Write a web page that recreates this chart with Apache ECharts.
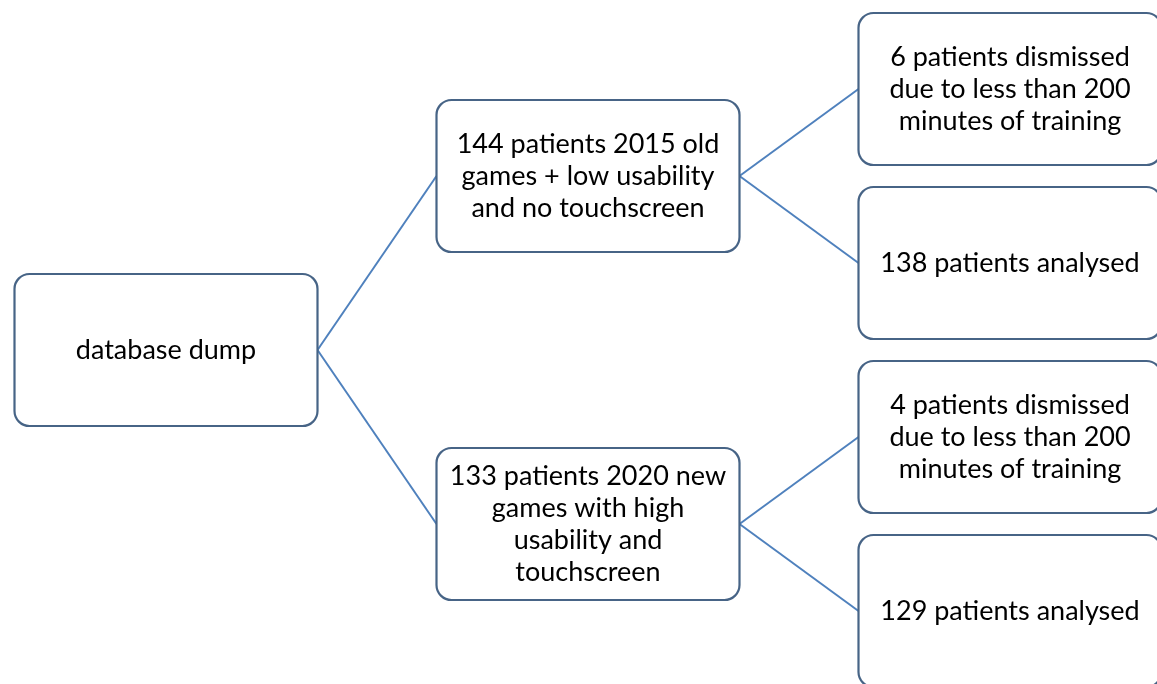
<!DOCTYPE html>
<html>
<head>
<meta charset="utf-8">
<title>database dump flow</title>
<script src="https://cdn.jsdelivr.net/npm/echarts@6/dist/echarts.min.js"></script>
<style>
  html, body { margin: 0; padding: 0; background: #fff; }
  #main { width: 1157px; height: 684px; }
</style>
</head>
<body>
<div id="main"></div>
<script>
// labels per level of the flow
var rootLabel = 'database dump';
var groupLabels = [
  '144 patients 2015 old\ngames + low usability\nand no touchscreen',
  '133 patients 2020 new\ngames with high\nusability and\ntouchscreen'
];
var outcomeLabels = [
  ['6 patients dismissed\ndue to less than 200\nminutes of training', '138 patients analysed'],
  ['4 patients dismissed\ndue to less than 200\nminutes of training', '129 patients analysed']
];

var BOX_W = 303, BOX_H = 152;

// nodes: [level, slot, label]; leaves take one slot each, parents sit in the middle
var nodes = [];
var links = [];
var groupSlots = [];
outcomeLabels.forEach(function (leaves, g) {
  var slots = [];
  leaves.forEach(function (txt, i) {
    var s = g * leaves.length + i;
    slots.push(s);
    nodes.push([2, s, txt]);
  });
  var gs = (slots[0] + slots[slots.length - 1]) / 2;
  groupSlots.push(gs);
  nodes.push([1, gs, groupLabels[g]]);
  slots.forEach(function (s) { links.push([1, gs, 2, s]); });
});
var rootSlot = (groupSlots[0] + groupSlots[groupSlots.length - 1]) / 2;
nodes.push([0, rootSlot, rootLabel]);
groupSlots.forEach(function (gs) { links.push([0, rootSlot, 1, gs]); });

var myChart = echarts.init(document.getElementById('main'));

myChart.setOption({
  animation: false,
  grid: { left: 166, right: 147, top: 89, bottom: 73 },
  xAxis: { type: 'value', min: 0, max: 2, show: false },
  yAxis: { type: 'value', min: 0, max: 3, inverse: true, show: false },
  series: [
    {
      type: 'custom',
      clip: false,
      z: 1,
      data: links,
      renderItem: function (params, api) {
        var a = api.coord([api.value(0), api.value(1)]);
        var b = api.coord([api.value(2), api.value(3)]);
        return {
          type: 'line',
          shape: { x1: a[0] + BOX_W / 2, y1: a[1], x2: b[0] - BOX_W / 2, y2: b[1] },
          style: { stroke: '#4f81bd', lineWidth: 2 }
        };
      }
    },
    {
      type: 'custom',
      clip: false,
      z: 2,
      data: nodes,
      renderItem: function (params, api) {
        var c = api.coord([api.value(0), api.value(1)]);
        var txt = nodes[params.dataIndex][2];
        return {
          type: 'group',
          children: [
            {
              type: 'rect',
              shape: { x: c[0] - BOX_W / 2, y: c[1] - BOX_H / 2, width: BOX_W, height: BOX_H, r: 15 },
              style: { fill: '#fff', stroke: '#476486', lineWidth: 2.2 }
            },
            {
              type: 'text',
              x: c[0],
              y: c[1],
              style: {
                text: txt,
                fill: '#000',
                font: '27px Lato',
                lineHeight: 32,
                align: 'center',
                verticalAlign: 'middle'
              }
            }
          ]
        };
      }
    }
  ]
});
</script>
</body>
</html>
